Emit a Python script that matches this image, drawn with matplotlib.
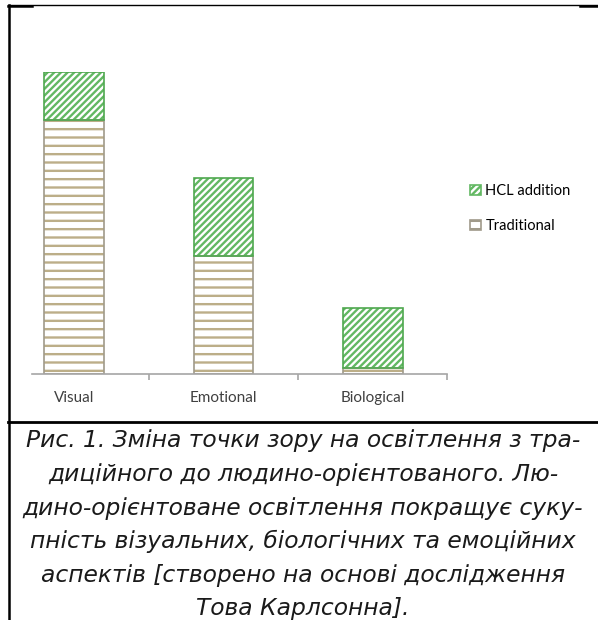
import matplotlib
matplotlib.use("Agg")
import matplotlib.pyplot as plt
from matplotlib.lines import Line2D
import numpy as np

# ---- data ----
categories = ["Visual", "Emotional", "Biological"]
traditional = [84, 39, 2]
hcl_addition = [16, 26, 20]
series_labels = ["Traditional", "HCL addition"]
caption_lines = [
    "Рис. 1. Зміна точки зору на освітлення з тра-",
    "диційного до людино-орієнтованого. Лю-",
    "дино-орієнтоване освітлення покращує суку-",
    "пність візуальних, біологічних та емоційних",
    "аспектів [створено на основі дослідження",
    "Това Карлсонна].",
]

plt.rcParams["hatch.linewidth"] = 1.7

W, H = 598, 620
fig = plt.figure(figsize=(W / 100, H / 100), dpi=100)

# axes: baseline at y=374px, top of 100 units at y=72px, x from 32 to 447px
ax = fig.add_axes([32 / W, (H - 374) / H, 415 / W, 302 / H])
x = np.arange(len(categories))
bw = 0.40

tan = "#bcae88"
tan_edge = "#a09a8a"
green = "#62b862"
green_edge = "#4fa84f"

# hatched fills (edgecolor drives hatch colour), outlines drawn on top
ax.bar(x, traditional, bw, color="white", edgecolor=tan, hatch="--", linewidth=0)
ax.bar(x, hcl_addition, bw, bottom=traditional, color="white",
       edgecolor=green, hatch="/////", linewidth=0)
ax.bar(x, traditional, bw, fill=False, edgecolor=tan_edge, linewidth=1.2)
ax.bar(x, hcl_addition, bw, bottom=traditional, fill=False,
       edgecolor=green_edge, linewidth=1.2)

ax.set_xlim(-0.281, 2.495)
ax.set_ylim(0, 100)
for s in ["top", "right", "left"]:
    ax.spines[s].set_visible(False)
ax.spines["bottom"].set_color("#a6a6a6")
ax.spines["bottom"].set_linewidth(1.2)
ax.set_yticks([])
ax.set_xticks(x)
ax.set_xticklabels(categories, fontsize=11, color="#404040", family="Lato")
ax.tick_params(axis="x", length=0, pad=12)
ax.set_xticks([0.5, 1.5, 2.495], minor=True)
ax.tick_params(axis="x", which="minor", length=4, color="#a6a6a6", width=1.2)

# legend with small hatched squares
h_hcl = plt.Rectangle((0, 0), 1, 1, facecolor="white", edgecolor=green, hatch="/////", linewidth=1.2)
h_trad = plt.Rectangle((0, 0), 1, 1, facecolor="white", edgecolor=tan_edge, hatch="--", linewidth=1.2)
fig.legend([h_hcl, h_trad], [series_labels[1], series_labels[0]],
           loc="upper left", bbox_to_anchor=(470 / W, 1 - 184 / H),
           frameon=False, handlelength=0.75, handleheight=0.75,
           handletextpad=0.3, labelspacing=1.45, borderaxespad=0,
           borderpad=0, prop={"family": "Lato", "size": 10.5})

# table-cell borders
fig.add_artist(Line2D([8.5 / W, 8.5 / W], [0, 1 - 5 / H], color="black", lw=1.8))
fig.add_artist(Line2D([8 / W, 1], [1 - 5 / H, 1 - 5 / H], color="black", lw=1.0))
fig.add_artist(Line2D([8 / W, 32 / W], [1 - 5.5 / H, 1 - 5.5 / H], color="black", lw=1.8))
fig.add_artist(Line2D([580 / W, 1], [1 - 5.5 / H, 1 - 5.5 / H], color="black", lw=1.8))
fig.add_artist(Line2D([8 / W, 1], [1 - 422 / H, 1 - 422 / H], color="black", lw=2.0))

# caption
for i, line in enumerate(caption_lines):
    y = 441 + i * 33.6
    fig.text(303 / W, 1 - y / H, line, ha="center", va="center",
             fontsize=16.8, style="italic", family="DejaVu Sans", color="#1a1a1a")

fig.savefig("out.png", dpi=100)
